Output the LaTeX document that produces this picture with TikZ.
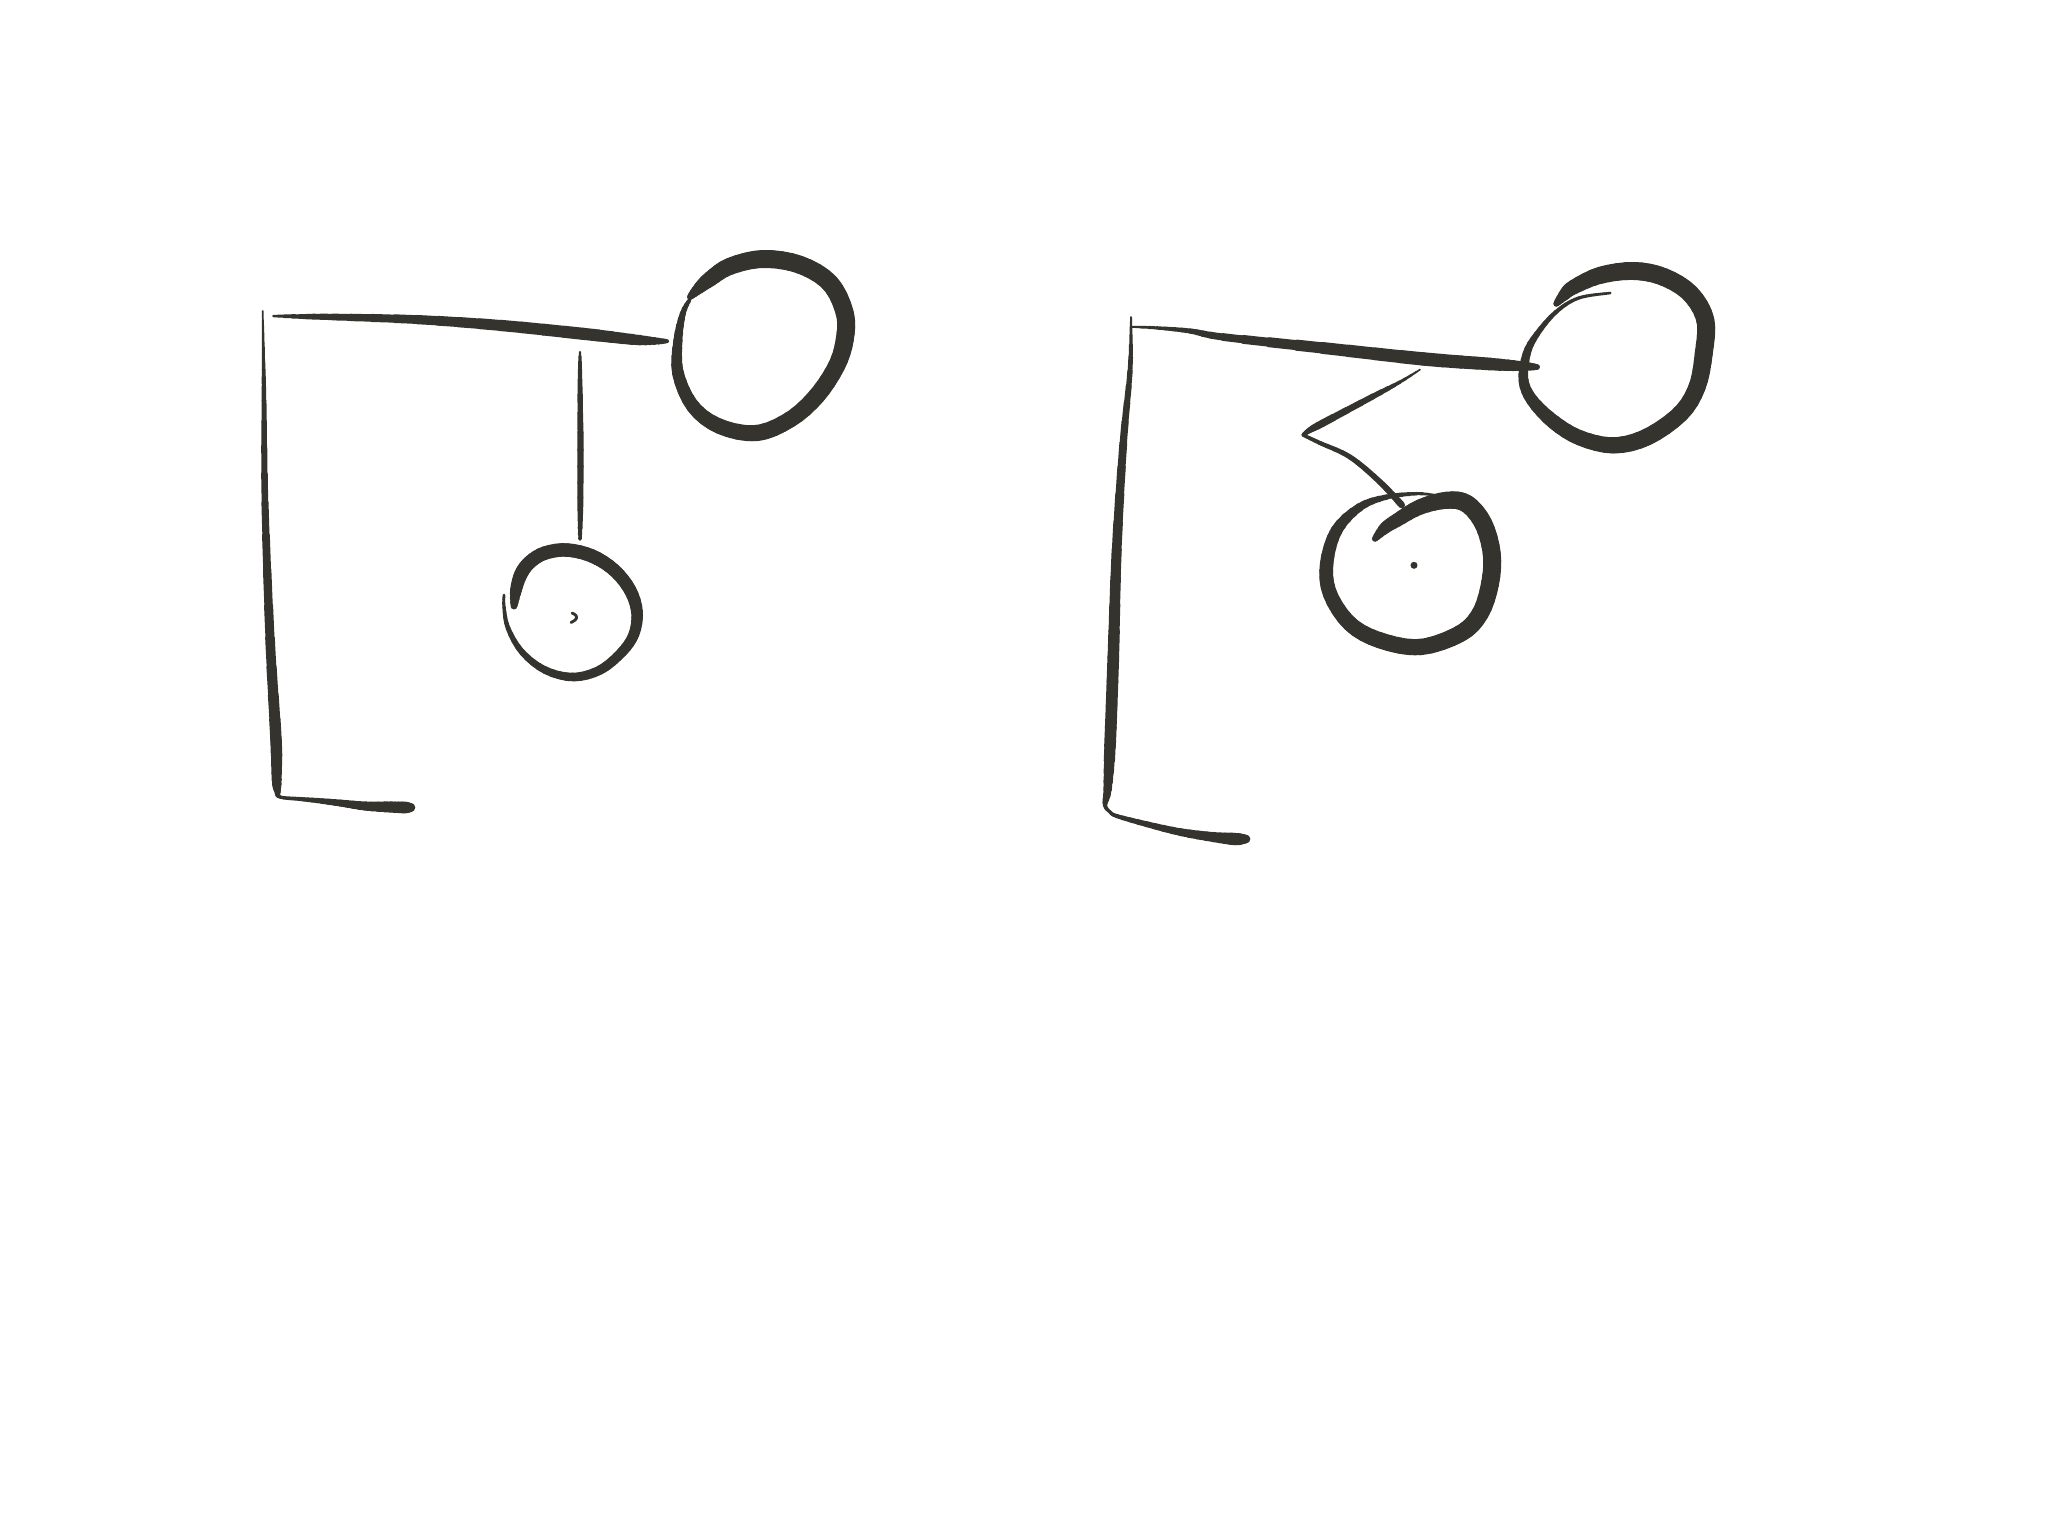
\documentclass[tikz,border=0pt]{standalone}
\usepackage{tikz}
\definecolor{inkcol}{RGB}{52,51,46}
\tikzset{inkline/.style={draw=inkcol, line cap=round, line join=round}}
\def\inkscale{1.8}
\newcommand\inkeval[1]{%
  \pgfmathsetmacro\inkt{#1}%
  \pgfmathsetmacro\inks{1-\inkt}%
  \pgfmathsetmacro\inkca{\inks*\inks*\inks}%
  \pgfmathsetmacro\inkcb{3*\inks*\inks*\inkt}%
  \pgfmathsetmacro\inkcc{3*\inks*\inkt*\inkt}%
  \pgfmathsetmacro\inkcd{\inkt*\inkt*\inkt}%
  \pgfmathsetmacro\inkqx{\inkca*\inkPx+\inkcb*\inkQx+\inkcc*\inkRx+\inkcd*\inkSx}%
  \pgfmathsetmacro\inkqy{\inkca*\inkPy+\inkcb*\inkQy+\inkcc*\inkRy+\inkcd*\inkSy}%
  \pgfmathsetmacro\inkda{3*\inks*\inks}%
  \pgfmathsetmacro\inkdb{6*\inks*\inkt}%
  \pgfmathsetmacro\inkdc{3*\inkt*\inkt}%
  \pgfmathsetmacro\inkdx{\inkda*(\inkQx-\inkPx)+\inkdb*(\inkRx-\inkQx)+\inkdc*(\inkSx-\inkRx)}%
  \pgfmathsetmacro\inkdy{\inkda*(\inkQy-\inkPy)+\inkdb*(\inkRy-\inkQy)+\inkdc*(\inkSy-\inkRy)}%
}
\newcommand\inkseg{%
  \let\inkPx\inkBx \let\inkPy\inkBy
  \pgfmathsetmacro\inkQx{\inkBx+(\inkCx-\inkAx)/6}%
  \pgfmathsetmacro\inkQy{\inkBy+(\inkCy-\inkAy)/6}%
  \pgfmathsetmacro\inkRx{\inkCx-(\inkDx-\inkBx)/6}%
  \pgfmathsetmacro\inkRy{\inkCy-(\inkDy-\inkBy)/6}%
  \let\inkSx\inkCx \let\inkSy\inkCy
  \foreach \k in {0,1,2,3}{%
    \inkeval{\k/4}%
    \let\inkax\inkqx \let\inkay\inkqy
    \pgfmathsetmacro\inkmx{\inkqx+\inkdx/12}\pgfmathsetmacro\inkmy{\inkqy+\inkdy/12}%
    \inkeval{(\k+1)/4}%
    \pgfmathsetmacro\inknx{\inkqx-\inkdx/12}\pgfmathsetmacro\inkny{\inkqy-\inkdy/12}%
    \pgfmathsetmacro\inkuw{(\inkBw+(\inkCw-\inkBw)*(\k+0.5)/4)*\inkscale*0.01}%
    \draw[inkline, line width=\inkuw cm] (\inkax,\inkay) .. controls (\inkmx,\inkmy) and (\inknx,\inkny) .. (\inkqx,\inkqy);%
  }%
}
\newcommand\inkstroke[1]{%
  \foreach \px/\py/\pw [count=\ii] in {#1}{%
    \ifnum\ii=1
      \xdef\inkAx{\px}\xdef\inkAy{\py}%
      \xdef\inkBx{\px}\xdef\inkBy{\py}\xdef\inkBw{\pw}%
      \xdef\inkCx{\px}\xdef\inkCy{\py}\xdef\inkCw{\pw}%
      \xdef\inkDx{\px}\xdef\inkDy{\py}\xdef\inkDw{\pw}%
    \else
      \xdef\inkAx{\inkBx}\xdef\inkAy{\inkBy}%
      \xdef\inkBx{\inkCx}\xdef\inkBy{\inkCy}\xdef\inkBw{\inkCw}%
      \xdef\inkCx{\inkDx}\xdef\inkCy{\inkDy}\xdef\inkCw{\inkDw}%
      \xdef\inkDx{\px}\xdef\inkDy{\py}\xdef\inkDw{\pw}%
      \ifnum\ii>2 \inkseg\fi
    \fi
  }%
  \xdef\inkAx{\inkBx}\xdef\inkAy{\inkBy}%
  \xdef\inkBx{\inkCx}\xdef\inkBy{\inkCy}\xdef\inkBw{\inkCw}%
  \xdef\inkCx{\inkDx}\xdef\inkCy{\inkDy}\xdef\inkCw{\inkDw}%
  \inkseg
}
\begin{document}
\begin{tikzpicture}[x=0.01cm,y=-0.01cm]
\useasboundingbox[fill=white] (0,0) rectangle (2048,1536);

% ---------- left figure ----------
% pole and foot
\inkstroke{262.7/311/0.8, 263.5/360/1.8, 264/401/2.6, 265/503/3.8, 270/638/5.2, 276/740/6.5, 276.7/780/5.5, 277.5/791/3.5, 280/797/1.8, 300/799/2.2, 316.7/800.5/2.8, 340/803/3.8, 365/806/5, 390/807/6.2, 405/807.5/6.5, 411/807.5/4.5}
% beam
\inkstroke{273.3/316/1.2, 300/316.5/2.6, 333/317/3.6, 417/319.6/5, 500/325.4/6.2, 583/333.8/6.8, 633/339.5/6, 655/341/4, 667/341.2/2}
% string
\inkstroke{580/352/1.2, 580/380/2.6, 580.5/450/3.6, 580.3/510/3.2, 580/539/1.8}
% big circle
\inkstroke{690/297/3, 698/289/6, 710/279/8.5, 730/266.3/9.5, 763/259/10, 799.7/264.7/10, 829.7/283/10, 844.7/313/10, 844.7/339.7/10, 836.3/366.3/9.5, 816.3/396.3/9.5, 789.7/419.7/9, 756.3/433/9, 719.7/426.3/8.5, 693/406.3/7.5, 678/373/6.5, 678/339.7/5, 683/313/3.2, 689.7/299.7/1.8}
% small circle
\inkstroke{514/606/3.5, 516/590/6.5, 521/574/7.5, 530/562/7.5, 545/553/7.5, 567/550/7.5, 592/556/7.5, 614/570/7.2, 630/590/7, 637/612/6.5, 634/634/6, 622/652/5.6, 600/670/5.2, 573/677/4.8, 545/670/4.2, 522/652/3.4, 508/628/2.6, 504/607/1.8, 504/595/1.4}
% mark inside
\inkstroke{572/613/1.5, 575.5/615/1.5, 576.5/618/1.5, 574.5/620.5/1.5, 571/622.5/1.5}

% ---------- right figure ----------
% pole and foot
\inkstroke{1131/317/1, 1131/327/1.3, 1130/371/2.8, 1123.3/443/4.2, 1116.7/550/5.5, 1113.3/657/6.5, 1110/746/6.5, 1107.5/790/4.5, 1105/805/2.2, 1110/812/1.8, 1116.7/816/2.2, 1146/824/3.2, 1180/832/4.2, 1213/837/5.5, 1235/839/7, 1246/839/4.5}
% beam
\inkstroke{1131/326.8/1, 1156.7/327.9/1.8, 1190/331/2.8, 1223/337/4, 1323/348/6.5, 1423/358.9/7.5, 1490/364/7, 1520/366/5.5, 1537/367/3}
% zigzag string
\inkstroke{1420/369.6/0.8, 1400/382/1.8, 1373/396.4/3.2, 1323/423/4.2, 1310/430/3.2, 1303/435/1.8}
\inkstroke{1303/435/1.8, 1320/443/2.3, 1350/457/2.8, 1380/482/3.2, 1401.7/505/3.8}
% big circle
\inkstroke{1556.3/303.7/3, 1565/294/6.5, 1573.7/287/8, 1600.3/275.3/9.5, 1633.7/271/10, 1663.7/277/10, 1690.3/293.7/10, 1705.3/320.3/10, 1703.7/353.7/10, 1697/387/9.5, 1680.3/413.7/9.5, 1647/437/9.5, 1613.7/445.3/9, 1580.3/438/8.5, 1553.7/422/8, 1532/400/6.5, 1523.5/380/5.5, 1526.7/353.6/4.5, 1537/334/3.2, 1556/312/2.3, 1578.7/298/1.8, 1610.3/293/1.4}
% small circle
\inkstroke{1375/538.7/3, 1385/528/6.5, 1396.7/520.3/7.5, 1420/507/8.5, 1446.7/500.3/9.5, 1466.7/503.7/10, 1483.3/523.7/10, 1491.7/553.7/10, 1490/583.7/10, 1480/613.7/9.5, 1460/633.7/9.5, 1420/647/9, 1380/640.3/9, 1350/623.7/8.5, 1330/593.7/8, 1326.7/563.7/7.5, 1336.7/530.3/6.5, 1360/507/4.5, 1386.7/497/2.8, 1416.7/493.7/1.8, 1436.7/495.3/1.1}
% dot
\fill[inkcol] (1414,565.3) circle[radius=3.5];
\end{tikzpicture}
\end{document}
